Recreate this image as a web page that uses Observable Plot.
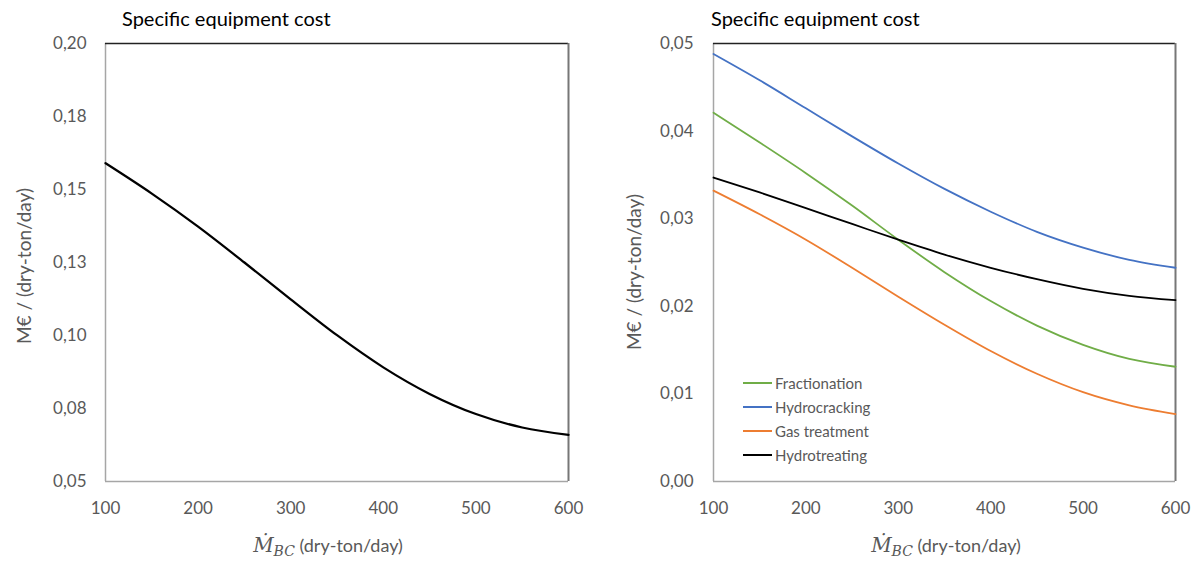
<!DOCTYPE html>
<html>
<head>
<meta charset="utf-8">
<script src="https://cdn.jsdelivr.net/npm/d3@7"></script>
<script src="https://cdn.jsdelivr.net/npm/@observablehq/plot@0.6"></script>
<style>
  html, body { margin: 0; padding: 0; background: #fff; }
  #wrap { position: relative; width: 1200px; height: 561px; overflow: hidden; font-family: Lato, "Open Sans", sans-serif; color: #595959; }
  .chart { position: absolute; top: 0; }
  .title { position: absolute; font-size: 20px; color: #000; white-space: nowrap; line-height: 1; }
  .ytitle { position: absolute; font-size: 19px; white-space: nowrap; line-height: 1; transform: translate(-50%, -50%) rotate(-90deg); }
  .xtitle { position: absolute; font-size: 18px; white-space: nowrap; line-height: 1; transform: translate(-50%, -50%); }
  .xtitle .m { font-family: "DejaVu Serif", "Liberation Serif", serif; font-style: italic; font-size: 20px; }
  .xtitle sub { font-family: "DejaVu Serif", "Liberation Serif", serif; font-style: italic; font-size: 14px; vertical-align: -4px; }
  .legend { position: absolute; font-size: 15px; }
  .legend .item { position: absolute; white-space: nowrap; display: flex; align-items: center; transform: translateY(-50%); }
  .legend .sw { width: 29px; height: 2px; margin-right: 3px; }
</style>
</head>
<body>
<div id="wrap"></div>
<script>
// ---- data ----
const xValues = [100, 150, 200, 250, 300, 350, 400, 450, 500, 550, 600];
const leftCost = [0.1590, 0.1486, 0.1373, 0.1250, 0.1124, 0.1001, 0.0891, 0.0800, 0.0731, 0.0685, 0.0660];

const seriesNames = ["Fractionation", "Hydrocracking", "Gas treatment", "Hydrotreating"];
const seriesColors = ["#70AD47", "#4472C4", "#ED7D31", "#000000"];
const fractionation = [0.0421, 0.0387, 0.0352, 0.0315, 0.0276, 0.0239, 0.0206, 0.0178, 0.0156, 0.0140, 0.0131];
const hydrocracking = [0.0488, 0.0458, 0.0426, 0.0394, 0.0363, 0.0334, 0.0308, 0.0285, 0.0267, 0.0253, 0.0244];
const gasTreatment  = [0.0332, 0.0305, 0.0276, 0.0244, 0.0211, 0.0179, 0.0149, 0.0123, 0.0102, 0.0087, 0.0077];
const hydrotreating = [0.0347, 0.0330, 0.0312, 0.0294, 0.0276, 0.0259, 0.0244, 0.0231, 0.0220, 0.0212, 0.0207];

const xTicks = [100, 200, 300, 400, 500, 600];
const leftYTicks = [0.05, 0.075, 0.1, 0.125, 0.15, 0.175, 0.2];
const leftYTickLabels = ["0,05", "0,08", "0,10", "0,13", "0,15", "0,18", "0,20"];
const rightYTicks = [0, 0.01, 0.02, 0.03, 0.04, 0.05];
const rightYTickLabels = ["0,00", "0,01", "0,02", "0,03", "0,04", "0,05"];

const chartTitle = "Specific equipment cost";
const yTitle = "M€ / (dry-ton/day)";
const xTitleUnit = " (dry-ton/day)";

// ---- build ----
const wrap = document.getElementById("wrap");
const leftData = xValues.map((x, i) => ({x, y: leftCost[i]}));
const allSeries = [fractionation, hydrocracking, gasTreatment, hydrotreating];
const rightData = [];
seriesNames.forEach((name, s) => xValues.forEach((x, i) => rightData.push({name, x, y: allSeries[s][i]})));

function frameMarks(xd, yd) {
  return [
    Plot.ruleX([xd[0]], {stroke: "#a6a6a6", strokeWidth: 1.5}),
    Plot.ruleY([yd[0]], {stroke: "#a6a6a6", strokeWidth: 1.5}),
    Plot.ruleY([yd[1]], {stroke: "#222", strokeWidth: 1.3}),
    Plot.ruleX([xd[1]], {stroke: "#777", strokeWidth: 2})
  ];
}

const common = {
  width: 600, height: 561, marginTop: 43, marginBottom: 80,
  style: {fontFamily: "Lato, 'Open Sans', sans-serif", fontSize: "17px", color: "#595959", background: "transparent"}
};

const leftPlot = Plot.plot({
  ...common,
  marginLeft: 105, marginRight: 32,
  x: {domain: [100, 600], ticks: xTicks, tickSize: 0, tickPadding: 20, label: null},
  y: {domain: [0.05, 0.2], ticks: leftYTicks, tickFormat: d => leftYTickLabels[leftYTicks.indexOf(d)], tickSize: 0, tickPadding: 19, label: null},
  marks: [
    ...frameMarks([100, 600], [0.05, 0.2]),
    Plot.line(leftData, {x: "x", y: "y", stroke: "#000", strokeWidth: 2.25, curve: "monotone-x"})
  ]
});

const rightPlot = Plot.plot({
  ...common,
  marginLeft: 113, marginRight: 25,
  x: {domain: [100, 600], ticks: xTicks, tickSize: 0, tickPadding: 20, label: null},
  y: {domain: [0, 0.05], ticks: rightYTicks, tickFormat: d => rightYTickLabels[rightYTicks.indexOf(d)], tickSize: 0, tickPadding: 20, label: null},
  color: {domain: seriesNames, range: seriesColors},
  marks: [
    ...frameMarks([100, 600], [0, 0.05]),
    Plot.line(rightData, {x: "x", y: "y", z: "name", stroke: "name", strokeWidth: 1.8, curve: "monotone-x"})
  ]
});

function place(el, left) {
  const d = document.createElement("div");
  d.className = "chart";
  d.style.left = left + "px";
  d.appendChild(el);
  wrap.appendChild(d);
}
place(leftPlot, 0);
place(rightPlot, 600);

function addDiv(cls, html, styles) {
  const d = document.createElement("div");
  d.className = cls;
  d.innerHTML = html;
  Object.assign(d.style, styles);
  wrap.appendChild(d);
  return d;
}
addDiv("title", chartTitle, {left: "122px", top: "8px"});
addDiv("title", chartTitle, {left: "711px", top: "8px"});
addDiv("ytitle", yTitle, {left: "23px", top: "266px"});
addDiv("ytitle", yTitle, {left: "633px", top: "272px"});
const xTitleHtml = '<span class="m">Ṁ</span><sub>BC</sub>' + xTitleUnit;
addDiv("xtitle", xTitleHtml, {left: "328px", top: "546px"});
addDiv("xtitle", xTitleHtml, {left: "946px", top: "546px"});

const legend = addDiv("legend", "", {left: "0px", top: "0px"});
const legendY = [383, 407, 431, 455];
seriesNames.forEach((name, i) => {
  const it = document.createElement("div");
  it.className = "item";
  it.style.left = "743px";
  it.style.top = legendY[i] + "px";
  it.innerHTML = `<span class="sw" style="background:${seriesColors[i]}"></span><span>${name}</span>`;
  legend.appendChild(it);
});
</script>
</body>
</html>
